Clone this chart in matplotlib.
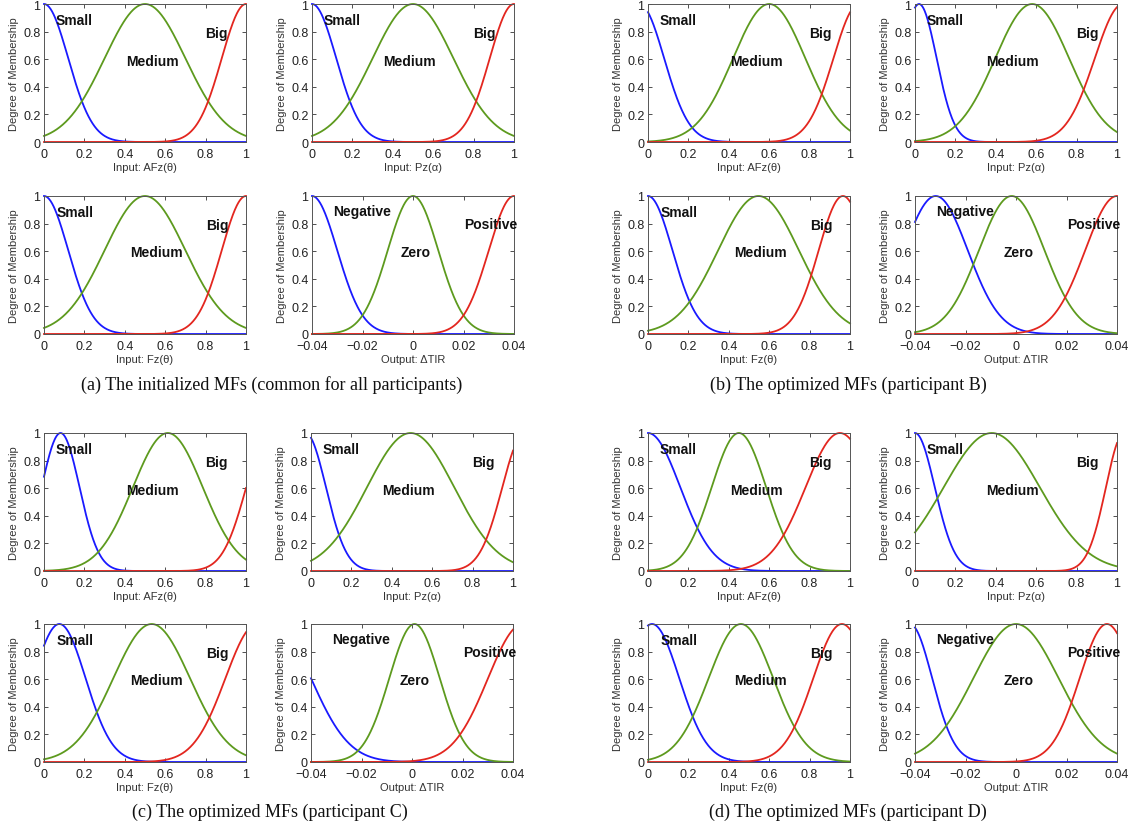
import numpy as np
import matplotlib.pyplot as plt

plt.rcParams['font.family'] = ['Liberation Sans', 'DejaVu Sans']

# Gaussian membership functions: centre and sigma
# order inside each group: AFz, Pz, Fz, dTIR ; inside each panel: low, mid, high
a_centers = [[0.0, 0.5, 1.0], [0.0, 0.5, 1.0], [0.0, 0.5, 1.0], [-0.04, 0.0, 0.04]]
a_sigmas = [[0.12, 0.2, 0.12], [0.12, 0.2, 0.12], [0.12, 0.2, 0.12], [0.01, 0.01, 0.01]]

b_centers = [[-0.043, 0.6, 1.045], [0.02, 0.58, 1.03], [0.0, 0.547, 0.965], [-0.0318, -0.0017, 0.04]]
b_sigmas = [[0.123, 0.179, 0.127], [0.087, 0.183, 0.14], [0.121, 0.2, 0.12], [0.0127, 0.013, 0.0126]]

c_centers = [[0.082, 0.613, 1.117], [-0.027, 0.493, 1.058], [0.076, 0.533, 1.055], [-0.055, 0.001, 0.044]]
c_sigmas = [[0.094, 0.173, 0.116], [0.101, 0.216, 0.111], [0.13, 0.19, 0.157], [0.015, 0.01, 0.0139]]

d_centers = [[0.0, 0.45, 0.95], [0.0, 0.38, 1.035], [0.02, 0.46, 0.96], [-0.042, 0.0, 0.036]]
d_sigmas = [[0.16, 0.135, 0.17], [0.098, 0.238, 0.09], [0.135, 0.16, 0.142], [0.0088, 0.0169, 0.0108]]

x_names = ['Input: AFz(θ)', 'Input: Pz(α)', 'Input: Fz(θ)', 'Output: ΔTIR']
input_terms = ['Small', 'Medium', 'Big']
output_terms = ['Negative', 'Zero', 'Positive']
in_ticks = [0, 0.2, 0.4, 0.6, 0.8, 1]
in_tick_labels = ['0', '0.2', '0.4', '0.6', '0.8', '1']
out_ticks = [-0.04, -0.02, 0, 0.02, 0.04]
out_tick_labels = ['\u22120.04', '\u22120.02', '0', '0.02', '0.04']
y_ticks = [0, 0.2, 0.4, 0.6, 0.8, 1]
y_tick_labels = ['0', '0.2', '0.4', '0.6', '0.8', '1']

captions = ['(a) The initialized MFs (common for all participants)',
            '(b) The optimized MFs (participant B)',
            '(c) The optimized MFs (participant C)',
            '(d) The optimized MFs (participant D)']

# where the term names sit (data coords, left edge / vertical centre)
label_xy = [
    [(0.055, 0.885), (0.405, 0.59), (0.80, 0.79)],
    [(0.055, 0.885), (0.35, 0.59), (0.80, 0.79)],
    [(0.064, 0.885), (0.426, 0.593), (0.805, 0.79)],
    [(-0.0318, 0.89), (-0.0049, 0.593), (0.0203, 0.795)],
]

colors = ['#1a1aff', '#5d9a1e', '#e3261f']
W, H = 1136, 837

fig = plt.figure(figsize=(W / 100, H / 100), dpi=100)

groups = [(a_centers, a_sigmas), (b_centers, b_sigmas), (c_centers, c_sigmas), (d_centers, d_sigmas)]
group_cols = [(44, 312), (648, 915), (44, 311), (648, 915)]
group_rows = [(5, 197), (5, 197), (434, 625), (434, 625)]
cap_pos = [(272, 385), (848, 385), (270, 812), (848, 812)]

for g, (cents, sigs) in enumerate(groups):
    for k in range(4):
        x0 = group_cols[g][k % 2]
        y0 = group_rows[g][k // 2]
        ax = fig.add_axes([x0 / W, 1 - (y0 + 138) / H, 202 / W, 138 / H])
        if k == 3:
            xs = np.linspace(-0.04, 0.04, 400)
            terms = output_terms
        else:
            xs = np.linspace(0, 1, 400)
            terms = input_terms
        for j in range(3):
            ys = np.exp(-(xs - cents[k][j]) ** 2 / (2 * sigs[k][j] ** 2))
            ax.plot(xs, ys, color=colors[j], lw=1.3, clip_on=False)
            lx, ly = label_xy[k][j]
            ax.text(lx, ly, terms[j], fontsize=10, fontweight='bold', ha='left', va='center', color='#111111')
        ax.set_xlim(xs[0], xs[-1])
        ax.set_ylim(0, 1)
        if k == 3:
            ax.set_xticks(out_ticks)
            ax.set_xticklabels(out_tick_labels)
        else:
            ax.set_xticks(in_ticks)
            ax.set_xticklabels(in_tick_labels)
        ax.set_yticks(y_ticks)
        ax.set_yticklabels(y_tick_labels)
        ax.tick_params(direction='in', length=3, width=0.6, top=True, right=True,
                       labelsize=9, colors='#333333', labelcolor='#222222')
        ax.tick_params(axis='x', pad=4.5)
        ax.tick_params(axis='y', pad=2.5)
        for sp in ax.spines.values():
            sp.set_color('#555555')
            sp.set_linewidth(0.7)
        ax.set_xlabel(x_names[k], fontsize=8, labelpad=1, color='#333333')
        ax.set_ylabel('Degree of Membership', fontsize=8, labelpad=3, color='#333333')

    cx, cy = cap_pos[g]
    fig.text(cx / W, 1 - cy / H, captions[g], ha='center', va='center',
             fontsize=13, family='Liberation Serif', color='#111111')

fig.savefig('out.png', dpi=100)
